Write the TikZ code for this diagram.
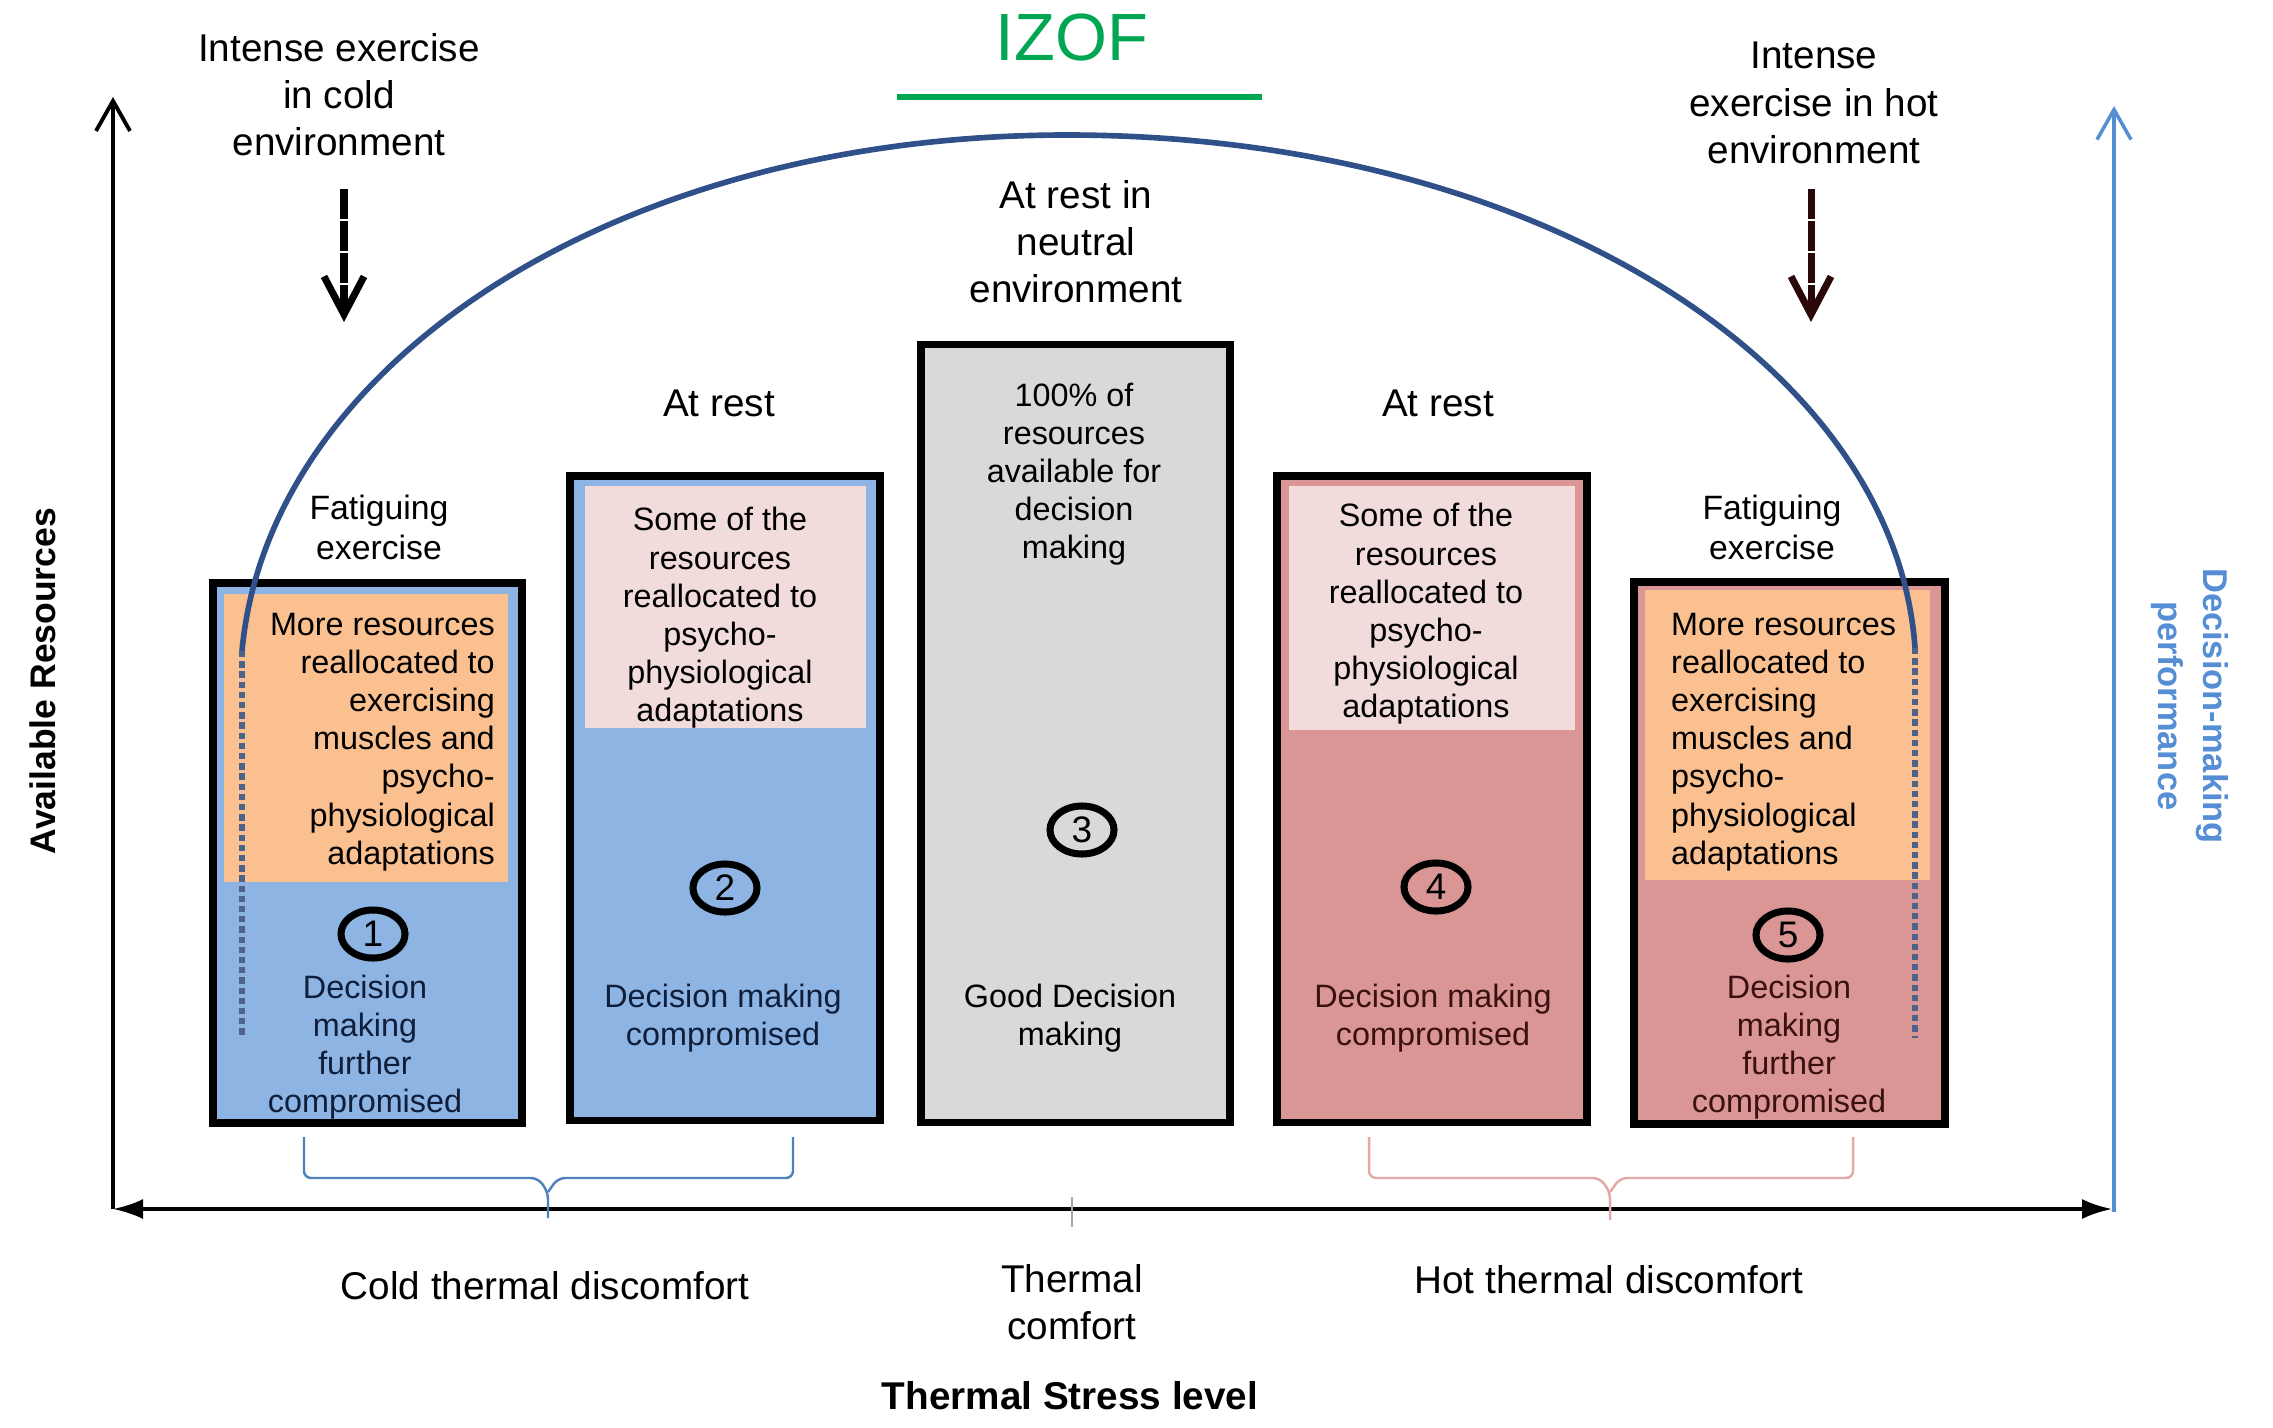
\documentclass[tikz,border=0pt]{standalone}
\usepackage{fontspec}
\setmainfont{Liberation Sans}
\usetikzlibrary{arrows.meta,shapes.geometric}

\definecolor{coldblue}{HTML}{8DB4E2}
\definecolor{hotred}{HTML}{D99694}
\definecolor{exorange}{HTML}{FAC090}
\definecolor{restpink}{HTML}{F2DCDB}
\definecolor{neutralgray}{HTML}{D9D9D9}
\definecolor{curveblue}{HTML}{2F5089}
\definecolor{dotblue}{HTML}{4E6389}
\definecolor{izofgreen}{HTML}{00A651}
\definecolor{perfblue}{HTML}{558ED5}
\definecolor{coldbrace}{HTML}{4F81BD}
\definecolor{hotbrace}{HTML}{E3A9A8}
\definecolor{coldtext}{HTML}{0F1E3A}
\definecolor{hottext}{HTML}{3A1010}
\definecolor{hotarrow}{HTML}{2A0808}

\tikzset{
	bar/.style={draw=black, line width=2.1pt, inner sep=0pt},
	patch/.style={inner sep=0pt},
	lbl/.style={font=\fontsize{11}{13.4}\selectfont, align=center, inner sep=1pt},
	boxtext/.style={font=\fontsize{9.2}{10.85}\selectfont, align=center, inner sep=1pt},
	num/.style={ellipse, draw, line width=2pt, minimum width=0.64cm, minimum height=0.48cm, inner sep=0pt, font=\fontsize{10.5}{12}\selectfont},
	downarrow/.style={line width=2pt, dash pattern=on 0.3cm off 0.02cm, -{Straight Barb[length=0.38cm,width=0.4cm]}},
	dotline/.style={dotblue, line width=1.5pt, dash pattern=on 1.8pt off 1.1pt},
	brace/.style={line width=0.7pt, rounded corners=2pt}
}

\begin{document}
\begin{tikzpicture}[x=0.01cm, y=-0.01cm]
	\useasboundingbox (0,0) rectangle (2273,1427);

	% axes
	\coordinate (origin) at (113,1209);
	\coordinate (ytop) at (113,97);
	\coordinate (xend) at (2112,1209);
	\coordinate (pbot) at (2114,1212);
	\coordinate (ptop) at (2114,106);
	\draw[line width=1.1pt, -{Straight Barb[length=0.3cm,width=0.34cm]}] (origin) -- (ytop);
	\draw[line width=1pt, {Latex[length=0.3cm,width=0.2cm]}-{Latex[length=0.3cm,width=0.2cm]}] (origin) -- (xend);
	\draw[perfblue, line width=1pt, -{Straight Barb[length=0.3cm,width=0.34cm]}] (pbot) -- (ptop);
	\draw[gray!70, line width=0.5pt] (1072,1197) -- (1072,1227);

	\node[rotate=90, font=\bfseries\fontsize{10.1}{12}\selectfont] (avail) at (43,681) {Available Resources};
	\node[rotate=-90, align=center, text=perfblue, font=\bfseries\fontsize{9.8}{12.8}\selectfont] (perf) at (2190,706) {Decision-making\\performance};

	% IZOF
	\node[font=\fontsize{19}{22}\selectfont, text=izofgreen] (izof) at (1072,37) {IZOF};
	\draw[izofgreen, line width=1.7pt] (897,97) -- (1262,97);

	% boxes
	\node[bar, fill=coldblue, minimum width=3.09cm, minimum height=5.40cm] (box1) at (367.5,853) {};
	\node[patch, fill=exorange, minimum width=2.84cm, minimum height=2.88cm] (ex1) at (366,738) {};
	\node[bar, fill=coldblue, minimum width=3.10cm, minimum height=6.44cm] (box2) at (725,798) {};
	\node[patch, fill=restpink, minimum width=2.81cm, minimum height=2.42cm] (rest2) at (725.5,607) {};
	\node[bar, fill=neutralgray, minimum width=3.09cm, minimum height=7.77cm] (box3) at (1075.5,733.5) {};
	\node[bar, fill=hotred, minimum width=3.10cm, minimum height=6.46cm] (box4) at (1432,799) {};
	\node[patch, fill=restpink, minimum width=2.86cm, minimum height=2.44cm] (rest4) at (1432,608) {};
	\node[bar, fill=hotred, minimum width=3.11cm, minimum height=5.42cm] (box5) at (1789.5,853) {};
	\node[patch, fill=exorange, minimum width=2.85cm, minimum height=2.90cm] (ex5) at (1787.5,735) {};

	% texts in boxes
	\node[boxtext, align=right, anchor=east] (ex1txt) at (499,742) {More resources\\reallocated to\\exercising\\muscles and\\psycho-\\physiological\\adaptations};
	\node[num] (n1) at (373,934) {1};
	\node[boxtext, text=coldtext] (dm1) at (365,1047) {Decision\\making\\further\\compromised};

	\node[boxtext] (rest2txt) at (720,618) {Some of the\\resources\\reallocated to\\psycho-\\physiological\\adaptations};
	\node[num] (n2) at (725,888) {2};
	\node[boxtext, text=coldtext] (dm2) at (723,1018) {Decision making\\compromised};

	\node[boxtext] (full3) at (1074,474) {100\% of\\resources\\available for\\decision\\making};
	\node[num] (n3) at (1082,830) {3};
	\node[boxtext] (dm3) at (1070,1018) {Good Decision\\making};

	\node[boxtext] (rest4txt) at (1426,614) {Some of the\\resources\\reallocated to\\psycho-\\physiological\\adaptations};
	\node[num] (n4) at (1436,887) {4};
	\node[boxtext, text=hottext] (dm4) at (1433,1018) {Decision making\\compromised};

	\node[boxtext, align=left, anchor=west] (ex5txt) at (1667,742) {More resources\\reallocated to\\exercising\\muscles and\\psycho-\\physiological\\adaptations};
	\node[num] (n5) at (1788,935) {5};
	\node[boxtext, text=hottext] (dm5) at (1789,1047) {Decision\\making\\further\\compromised};

	% labels above boxes
	\node[lbl] (coldex) at (339,95) {Intense exercise\\in cold\\environment};
	\node[lbl] (hotex) at (1814,103) {Intense\\exercise in hot\\environment};
	\node[lbl] (neutral) at (1076,242) {At rest in\\neutral\\environment};
	\node[lbl] (rest2lbl) at (719,403) {At rest};
	\node[lbl] (rest4lbl) at (1438,403) {At rest};
	\node[boxtext, font=\fontsize{9.6}{11.4}\selectfont] (fat1) at (379,527) {Fatiguing\\exercise};
	\node[boxtext, font=\fontsize{9.6}{11.4}\selectfont] (fat5) at (1772,527) {Fatiguing\\exercise};

	% down arrows
	\coordinate (coldtop) at (344,189);
	\coordinate (coldtip) at (344,322);
	\coordinate (hottop) at (1811,189);
	\coordinate (hottip) at (1811,322);
	\draw[downarrow] (coldtop) -- (coldtip);
	\draw[downarrow, hotarrow] (hottop) -- (hottip);

	% performance curve
	\coordinate (c1) at (242,651);
	\coordinate (cpeak) at (1067,135);
	\coordinate (c5) at (1915,648);
	\coordinate (d1) at (242,1036);
	\coordinate (d5) at (1915,1038);
	\draw[curveblue, line width=1.6pt] (c1) .. controls (268,366) and (611,135) .. (cpeak) .. controls (1535,135) and (1895,364) .. (c5);
	\draw[dotline] (c1) -- (d1);
	\draw[dotline] (c5) -- (d5);

	% braces
	\draw[brace, coldbrace] (304,1137) -- (304,1178) -- (538,1178) -- (548,1192) -- (548,1218);
	\draw[brace, coldbrace] (793,1137) -- (793,1178) -- (558,1178) -- (548,1192);
	\draw[brace, hotbrace] (1369,1137) -- (1369,1178) -- (1600,1178) -- (1610,1192) -- (1610,1220);
	\draw[brace, hotbrace] (1853,1137) -- (1853,1178) -- (1620,1178) -- (1610,1192);

	% bottom labels
	\node[lbl] (coldlbl) at (545,1286) {Cold thermal discomfort};
	\node[lbl] (comfort) at (1072,1302) {Thermal\\comfort};
	\node[lbl] (hotlbl) at (1609,1280) {Hot thermal discomfort};
	\node[lbl, font=\bfseries\fontsize{11}{13.4}\selectfont] (stress) at (1070,1396) {Thermal Stress level};
\end{tikzpicture}
\end{document}
